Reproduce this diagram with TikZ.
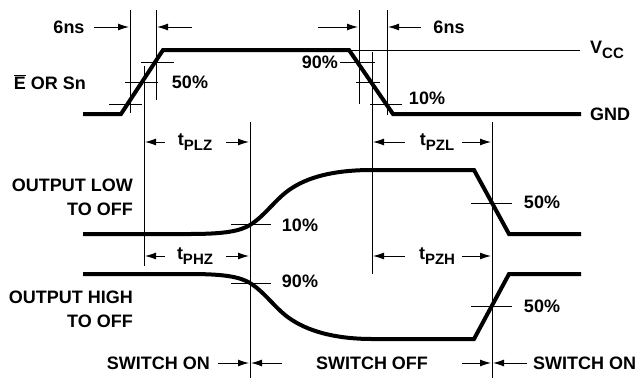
\documentclass[tikz,border=0pt]{standalone}
\usepackage{fontspec}
\setmainfont{Liberation Sans}
\usetikzlibrary{arrows.meta}
\newcommand{\subtx}[1]{\raisebox{-5pt}{\fontsize{15}{15}\selectfont #1}}
\begin{document}
\begin{tikzpicture}[x=1pt,y=-1pt,
  wave/.style={line width=4pt},
  thinline/.style={line width=0.9pt},
  arr/.style={line width=1pt,-{Latex[length=11pt,width=7pt]}},
  lbl/.style={font=\fontsize{18}{24}\selectfont\bfseries, inner sep=0pt}]
\useasboundingbox (0,0) rectangle (637,380);
% top waveform
\draw[wave] (83,114) -- (121,114) -- (163,50) -- (349,50) -- (393,114) -- (581,114);
\draw[thinline] (349,50) -- (580,50);
% vertical reference lines
\draw[thinline] (130,10) -- (130,113);
\draw[thinline] (156,10) -- (156,100);
\draw[thinline] (144,66) -- (144,266);
\draw[thinline] (359,10) -- (359,104);
\draw[thinline] (387,10) -- (387,115);
\draw[thinline] (372,52) -- (372,274);
\draw[thinline] (250,122) -- (250,378);
\draw[thinline] (492,122) -- (492,378);
% ticks
\draw[thinline] (141,62) -- (174,62);
\draw[thinline] (125,82) -- (158,82);
\draw[thinline] (109,104) -- (142,104);
\draw[thinline] (340,62) -- (375,62);
\draw[thinline] (356,82) -- (380,82);
\draw[thinline] (370,104) -- (402,104);
\draw[thinline] (231,224) -- (271,224);
\draw[thinline] (231,283) -- (271,283);
\draw[thinline] (471,203) -- (512,203);
\draw[thinline] (471,306) -- (512,306);
% output waveforms
\draw[wave] (83,234) -- (190,234) .. controls (225,234) and (240,231) .. (250,225)
  .. controls (266,215) and (276,198) .. (292,188) .. controls (312,175) and (340,170) .. (372,170)
  -- (474,170) -- (509,234) -- (581,234);
\draw[wave] (83,274) -- (190,274) .. controls (225,274) and (240,277) .. (250,283)
  .. controls (266,293) and (276,310) .. (292,320) .. controls (312,333) and (340,339) .. (372,339)
  -- (474,339) -- (509,274) -- (581,274);
% labels
\node[lbl] (ns1) at (69,27) {6ns};
\node[lbl] (ns2) at (449,27) {6ns};
\coordinate (a1s) at (94,27); \coordinate (a1e) at (129,27);
\coordinate (a2s) at (192,27); \coordinate (a2e) at (157,27);
\draw[arr] (a1s) -- (a1e);
\draw[arr] (a2s) -- (a2e);
\coordinate (a3s) at (318,27); \coordinate (a3e) at (358,27);
\coordinate (a4s) at (421,27); \coordinate (a4e) at (388,27);
\draw[arr] (a3s) -- (a3e);
\draw[arr] (a4s) -- (a4e);
\node[lbl] (p50a) at (190,82) {50\%};
\node[lbl,anchor=east] (p90a) at (338,62) {90\%};
\node[lbl] (p10a) at (427,98) {10\%};
\node[lbl,anchor=west] (vcc) at (590,50) {V\subtx{CC}};
\node[lbl,anchor=west] (gnd) at (590,114) {GND};
\node[lbl] (esn) at (50,82) {$\overline{\mbox{E}}$ OR Sn};
\node[lbl,align=right,anchor=east] (oltoff) at (133,197) {OUTPUT LOW\\TO OFF};
\node[lbl,align=right,anchor=east] (ohtoff) at (133,309) {OUTPUT HIGH\\TO OFF};
\node[lbl] (p10b) at (300,225) {10\%};
\node[lbl] (p90b) at (300,281) {90\%};
\node[lbl] (p50b) at (542,202) {50\%};
\node[lbl] (p50c) at (542,306) {50\%};
% timing labels
\node[lbl] (tplz) at (195,142) {t\subtx{PLZ}};
\node[lbl] (tphz) at (195,256) {t\subtx{PHZ}};
\node[lbl] (tpzl) at (437,142) {t\subtx{PZL}};
\node[lbl] (tpzh) at (437,256) {t\subtx{PZH}};
\foreach \y in {142,256}{
  \draw[arr] (165,\y) -- (145,\y);
  \draw[arr] (226,\y) -- (249,\y);
  \draw[arr] (405,\y) -- (373,\y);
  \draw[arr] (462,\y) -- (491,\y);
}
% bottom labels
\node[lbl,anchor=east] (swon1) at (210,363) {SWITCH ON};
\node[lbl] (swoff) at (372,363) {SWITCH OFF};
\node[lbl,anchor=west] (swon2) at (533,363) {SWITCH ON};
\draw[arr] (218,363) -- (249,363);
\draw[arr] (282,363) -- (251,363);
\draw[arr] (462,363) -- (491,363);
\draw[arr] (527,363) -- (493,363);
\end{tikzpicture}
\end{document}
